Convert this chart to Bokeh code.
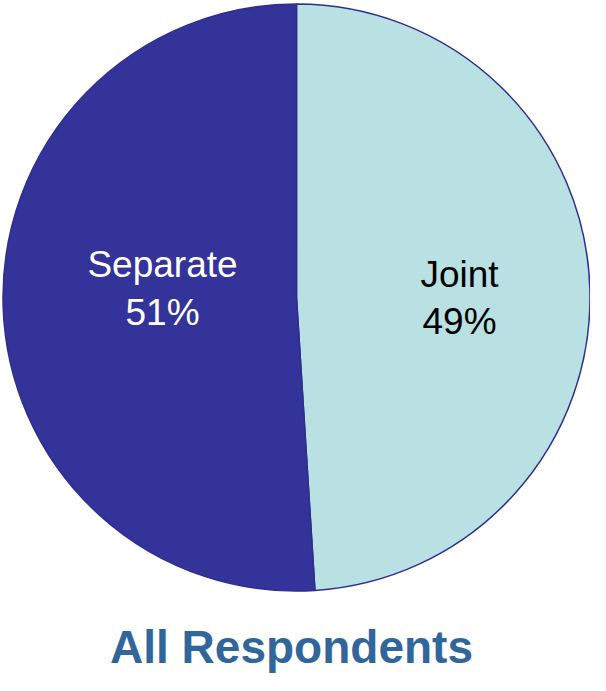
import numpy as np
from bokeh.plotting import figure
from bokeh.models import Range1d, ColumnDataSource
from bokeh.core.properties import value
from bokeh.embed import file_html
from bokeh.resources import INLINE

# Data
categories = ["Joint", "Separate"]
shares = [49, 51]
colors = ["#B9E0E3", "#333399"]
label_colors = ["#000000", "#FFFFFF"]
title_text = "All Respondents"

W, H = 590, 675
p = figure(width=W, height=H, output_backend="svg", toolbar_location=None,
           x_range=Range1d(0, W), y_range=Range1d(0, H),
           x_axis_location=None, y_axis_location=None, min_border=0)
p.grid.visible = False
p.outline_line_color = None
p.background_fill_color = "white"

# Pie geometry (layout)
cx, cy, r = 296, 378, 293.5

# Joint starts at 12 o'clock going clockwise, Separate follows
fr = np.array(shares, dtype=float) / sum(shares)
cum = np.concatenate([[0], np.cumsum(fr)])
top = np.pi / 2
ends = top - 2 * np.pi * cum[:-1]
starts = top - 2 * np.pi * cum[1:]

src = ColumnDataSource(dict(start=starts, end=ends, color=colors, cat=categories))
p.wedge(x=cx, y=cy, radius=r, start_angle="start", end_angle="end",
        fill_color="color", line_color="#2E2E8F", line_width=1.5, source=src)

# Labels
label_x = [459, 162]
line1_y = [401, 411]
line2_y = [354, 363]
pct = [f"{s}%" for s in shares]
lsrc = ColumnDataSource(dict(x=label_x, y1=line1_y, y2=line2_y, cat=categories,
                             pct=pct, tc=label_colors))
p.text(x="x", y="y1", text="cat", text_color="tc", text_align="center",
       text_baseline="alphabetic", text_font=value("Liberation Sans"),
       text_font_size="37px", source=lsrc)
p.text(x="x", y="y2", text="pct", text_color="tc", text_align="center",
       text_baseline="alphabetic", text_font=value("Liberation Sans"),
       text_font_size="37px", source=lsrc)

# Title
p.text(x=[291], y=[3], text=[title_text], text_color="#31669B",
       text_align="center", text_baseline="bottom",
       text_font=value("Liberation Sans"), text_font_style="bold",
       text_font_size="46px")

open("out.html", "w").write(file_html(p, INLINE))
